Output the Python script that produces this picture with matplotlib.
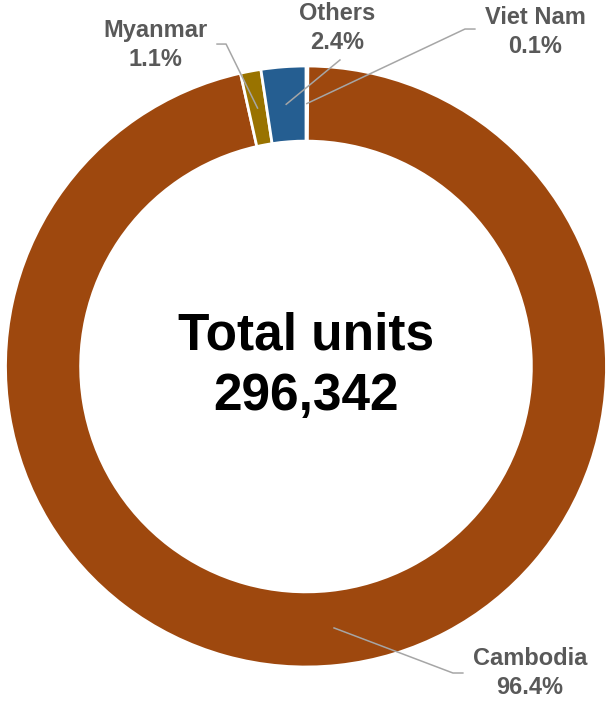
import numpy as np
import matplotlib.pyplot as plt

plt.rcParams['font.family'] = ['Liberation Sans', 'DejaVu Sans']

countries = ["Viet Nam", "Cambodia", "Myanmar", "Others"]
shares = [0.1, 96.4, 1.1, 2.4]
colors = ["#A5A5A5", "#9E480E", "#997300", "#255E91"]
total_units = 296342

fig = plt.figure(figsize=(6.07, 7.04), dpi=100)
ax = fig.add_axes([0.00906, 0.05256, 0.9901, 0.8537])

wedges, _ = ax.pie(shares, colors=colors, startangle=90, counterclock=False,
                   radius=1, wedgeprops=dict(width=0.25, edgecolor="white", linewidth=2))
ax.set_xlim(-1, 1)
ax.set_ylim(-1, 1)
ax.set_aspect("auto")
ax.axis("off")

# label placement: text centre, leader elbow, leader end near text
label_pos = {
    "Viet Nam": ((0.762, 1.113), [(0.529, 1.123), (0.562, 1.123)]),
    "Others": ((0.103, 1.126), [(0.113, 1.020)]),
    "Myanmar": ((-0.502, 1.070), [(-0.266, 1.073), (-0.296, 1.073)]),
    "Cambodia": ((0.745, -1.020), [(0.489, -1.020), (0.522, -1.020)]),
}

cum = np.cumsum(shares)
tot = sum(shares)
for name, v, c in zip(countries, shares, cum):
    ang = np.deg2rad(90 - 360 * (c - v / 2) / tot)
    x0, y0 = 0.875 * np.cos(ang), 0.875 * np.sin(ang)
    (tx, ty), pts = label_pos[name]
    xs = [x0] + [p[0] for p in pts]
    ys = [y0] + [p[1] for p in pts]
    ax.plot(xs, ys, color="#A6A6A6", lw=1.1, clip_on=False)
    ax.text(tx, ty, f"{name}\n{v}%", ha="center", va="center", fontsize=17,
            fontweight="bold", color="#595959", linespacing=1.35, clip_on=False)

ax.text(0, 0.0, f"Total units\n{total_units:,}", ha="center", va="center",
        fontsize=37, fontweight="bold", color="black", linespacing=1.3)

fig.savefig("out.png", dpi=100)
